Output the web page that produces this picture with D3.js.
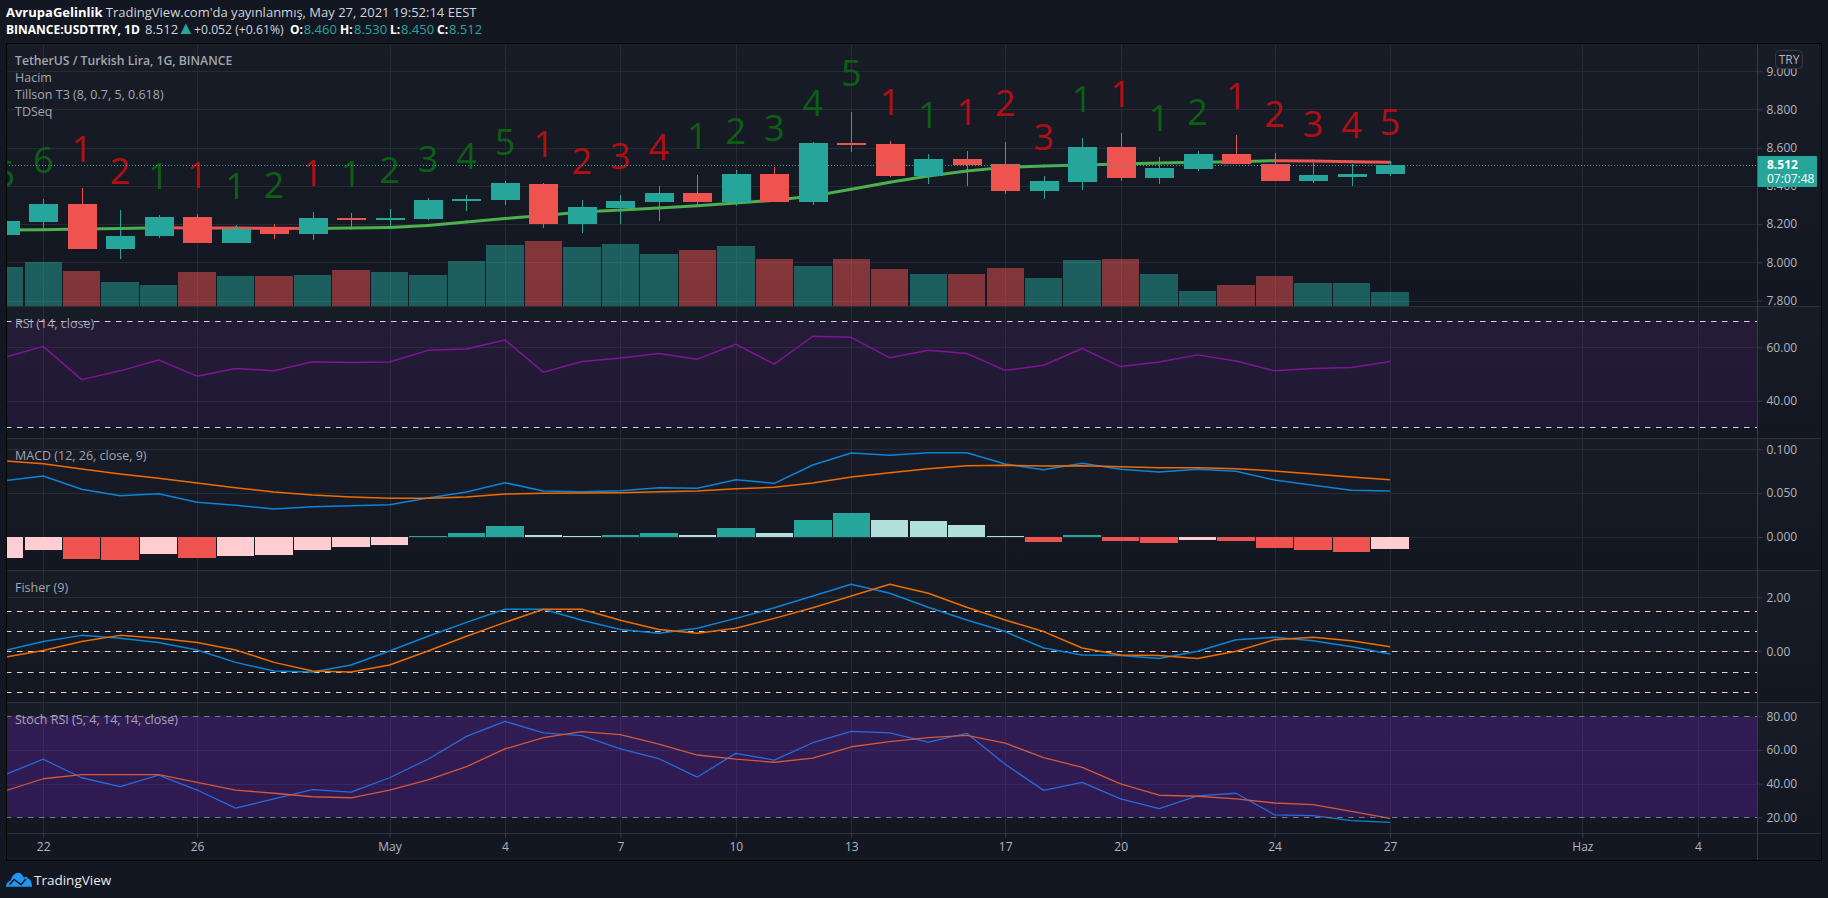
<!DOCTYPE html>
<html>
<head>
<meta charset="utf-8">
<title>USDTTRY</title>
<script src="https://cdn.jsdelivr.net/npm/d3@7"></script>
<style>
html, body { margin: 0; padding: 0; background: #131722; overflow: hidden; }
svg { display: block; }
text { font-family: "Open Sans", sans-serif; }
.axis text { fill: #b2b5be; font-size: 12px; }
.axis line { stroke: #363a45; }
.legend { fill: #a3a6af; font-size: 12.5px; }
</style>
</head>
<body>
<svg id="chart" width="1828" height="898"></svg>
<script>
const days = ["2021-04-21","2021-04-22","2021-04-23","2021-04-24","2021-04-25","2021-04-26","2021-04-27","2021-04-28","2021-04-29","2021-04-30",
    "2021-05-01","2021-05-02","2021-05-03","2021-05-04","2021-05-05","2021-05-06","2021-05-07","2021-05-08","2021-05-09","2021-05-10",
    "2021-05-11","2021-05-12","2021-05-13","2021-05-14","2021-05-15","2021-05-16","2021-05-17","2021-05-18","2021-05-19","2021-05-20",
    "2021-05-21","2021-05-22","2021-05-23","2021-05-24","2021-05-25","2021-05-26","2021-05-27"];

const opens  = [8.143,8.213,8.305,8.070,8.138,8.237,8.101,8.174,8.148,8.232,8.221,8.227,8.321,8.326,8.410,8.200,8.284,8.316,8.363,8.316,8.462,8.316,8.625,8.619,8.452,8.541,8.515,8.373,8.420,8.604,8.441,8.488,8.567,8.515,8.426,8.447,8.460];
const highs  = [8.258,8.331,8.387,8.274,8.248,8.253,8.195,8.200,8.263,8.258,8.279,8.337,8.352,8.426,8.415,8.326,8.352,8.399,8.457,8.483,8.499,8.630,8.787,8.635,8.567,8.583,8.630,8.452,8.651,8.677,8.551,8.583,8.666,8.572,8.520,8.515,8.530];
const lows   = [8.130,8.178,8.070,8.019,8.127,8.101,8.101,8.122,8.117,8.185,8.185,8.221,8.269,8.300,8.180,8.153,8.200,8.216,8.305,8.295,8.316,8.300,8.578,8.447,8.410,8.399,8.358,8.331,8.378,8.426,8.410,8.478,8.515,8.426,8.415,8.399,8.450];
const closes = [8.216,8.305,8.070,8.138,8.237,8.101,8.174,8.148,8.232,8.221,8.232,8.326,8.331,8.415,8.200,8.290,8.321,8.363,8.316,8.462,8.316,8.625,8.614,8.452,8.541,8.510,8.373,8.426,8.604,8.441,8.494,8.567,8.515,8.426,8.457,8.462,8.512];
const volumes = [39,44,35,24,21,34,30,30,31,36,34,31,45,61,65,59,62,52,56,60,47,40,47,37,32,32,38,28,46,47,32,15,21,30,23,23,14];
const t3 = [8.169,8.171,8.174,8.177,8.181,8.180,8.179,8.178,8.177,8.179,8.182,8.193,8.211,8.229,8.245,8.263,8.274,8.284,8.296,8.310,8.325,8.347,8.382,8.419,8.452,8.478,8.497,8.504,8.509,8.515,8.520,8.524,8.527,8.532,8.530,8.527,8.524];
const tdCounts = [5,6,1,2,1,1,1,2,1,1,2,3,4,5,1,2,3,4,1,2,3,4,5,1,1,1,2,3,1,1,1,2,1,2,3,4,5];
const tdBuy = [1,1,0,0,1,0,1,1,0,1,1,1,1,1,0,0,0,0,1,1,1,1,1,0,1,0,0,0,1,0,1,1,0,0,0,0,0];

const rsi = [56.3,60.4,47.9,51.2,55.3,49.2,52.1,51.2,54.6,54.3,54.5,58.9,59.4,62.8,50.7,54.7,56.0,57.7,55.6,61.2,53.7,64.2,63.8,56.1,58.9,57.7,51.4,53.3,59.6,52.8,54.5,57.2,54.9,51.2,52.1,52.5,54.7];

const macd = [.0642,.0696,.0544,.0471,.0494,.0396,.0361,.0319,.0345,.0357,.0368,.0445,.0513,.0619,.0525,.0517,.0528,.0562,.0555,.0653,.0612,.0821,.0958,.0932,.0961,.0961,.0832,.0767,.0840,.0772,.0741,.0772,.0749,.0650,.0590,.0532,.0525];
const macdSignal = [.0867,.0836,.0775,.0718,.0669,.0616,.0562,.0513,.0479,.0456,.0441,.0441,.0456,.0490,.0498,.0502,.0505,.0517,.0525,.0551,.0567,.0616,.0684,.0733,.0779,.0813,.0818,.0810,.0813,.0802,.0790,.0790,.0779,.0753,.0718,.0684,.0653];
const macdHist = [-.0239,-.0148,-.0251,-.0262,-.0194,-.0239,-.0217,-.0205,-.0148,-.0114,-.0091,.0006,.0046,.0125,.0023,.0011,.0023,.0046,.0023,.0103,.0046,.0194,.0274,.0194,.0182,.0137,.0011,-.0057,.0023,-.0046,-.0068,-.0034,-.0046,-.0125,-.0148,-.0171,-.0137];

const fisher = [.03,.36,.59,.48,.33,.05,-.41,-.73,-.77,-.51,.01,.56,1.07,1.56,1.56,1.15,.81,.67,.85,1.22,1.61,2.05,2.48,2.15,1.63,1.16,.73,.12,-.14,-.16,-.27,0,.43,.52,.39,.17,-.10];
const fisherTrigger = [-.22,.03,.36,.59,.48,.33,.05,-.41,-.73,-.77,-.51,.01,.56,1.07,1.56,1.56,1.15,.81,.67,.85,1.22,1.61,2.05,2.48,2.15,1.63,1.16,.73,.12,-.14,-.16,-.27,0,.43,.52,.39,.17];
const fisherLevels = [1.5,.75,0,-.75,-1.5];

const stochK = [45.3,54.5,43.5,38.2,45.1,36.2,25.5,30.9,36.4,34.9,43.5,54.5,68.1,77.0,70.1,68.5,60.6,54.8,43.9,58.0,54.0,64.3,71.1,70.1,64.6,69.9,51.5,36.0,40.8,30.9,25.1,32.7,34.3,21.5,21.0,18.0,17.0];
const stochD = [35.6,42.9,45.3,45.3,45.3,40.8,36.2,34.3,32.2,31.6,36.2,42.2,50.1,60.6,67.3,70.9,69.1,63.4,57.0,54.5,52.7,55.1,61.9,64.9,67.3,68.7,64.0,55.4,49.7,39.8,33.1,32.5,30.9,28.5,27.5,23.5,19.4];

const priceTicks = [9, 8.8, 8.6, 8.4, 8.2, 8, 7.8];
const rsiTicks = [60, 40];
const macdTicks = [.1, .05, 0];
const fisherTicks = [2, 0];
const stochTicks = [80, 60, 40, 20];
const timeTicks = ["2021-04-22","2021-04-26","2021-05-01","2021-05-04","2021-05-07","2021-05-10","2021-05-13","2021-05-17","2021-05-20","2021-05-24","2021-05-27","2021-06-01","2021-06-04"];
const timeLabels = ["22","26","May","4","7","10","13","17","20","24","27","Haz","4"];
const lastPrice = 8.512;

const UP = "#26a69a", DOWN = "#ef5350";
const GRID = "#252a35", SEP = "#2c303b";
const plotLeft = 6, plotRight = 1757.5, frameRight = 1822, plotTop = 43, plotBottom = 833, frameBottom = 861;

const panes = {
    main:   { y0: 43,  y1: 306 },
    rsi:    { y0: 306, y1: 438 },
    macd:   { y0: 438, y1: 570 },
    fisher: { y0: 570, y1: 702 },
    stoch:  { y0: 702, y1: 833 }
};

const parse = d3.utcParse("%Y-%m-%d");
const dates = days.map(parse);
const x = d3.scaleUtc().domain([parse("2021-04-22"), parse("2021-05-27")]).range([43.2, 1390]);
const barWidth = 37.4, bodyWidth = 29;

const yPrice  = d3.scaleLinear().domain([7.8, 9]).range([300.5, 71.3]);
const yVolume = d3.scaleLinear().domain([0, 65]).range([306, 241]);
const yRsi    = d3.scaleLinear().domain([30, 70]).range([427.3, 320.8]);
const yMacd   = d3.scaleLinear().domain([0, .1]).range([537, 449.3]);
const yFisher = d3.scaleLinear().domain([-1.5, 1.5]).range([691.8, 610.8]);
const yStoch  = d3.scaleLinear().domain([20, 80]).range([817.3, 716.3]);

const svg = d3.select("#chart");
const defs = svg.append("defs");

const grad = defs.append("linearGradient").attr("id", "paneBg").attr("x1", 0).attr("y1", 0).attr("x2", 0).attr("y2", 1);
grad.append("stop").attr("offset", 0).attr("stop-color", "#181c27");
grad.append("stop").attr("offset", 1).attr("stop-color", "#131722");

svg.append("rect").attr("width", 1828).attr("height", 898).attr("fill", "#131722");

// one clip per pane, marks stop at the price axis and pane edges
Object.entries(panes).forEach(([name, p]) => {
    svg.append("rect").attr("x", plotLeft).attr("y", p.y0).attr("width", frameRight - plotLeft).attr("height", p.y1 - p.y0).attr("fill", "url(#paneBg)");
    defs.append("clipPath").attr("id", "clip-" + name).append("rect")
        .attr("x", plotLeft).attr("y", p.y0).attr("width", plotRight - plotLeft).attr("height", p.y1 - p.y0);
});

function pane(name) {
    return svg.append("g").attr("clip-path", `url(#clip-${name})`);
}

function hgrid(y, ticks) {
    svg.append("g").selectAll("line").data(ticks).join("line")
        .attr("x1", plotLeft).attr("x2", plotRight)
        .attr("y1", d => Math.round(y(d)) + .5).attr("y2", d => Math.round(y(d)) + .5)
        .attr("stroke", GRID);
}

function yAxis(y, ticks, fmt) {
    const g = svg.append("g").attr("class", "axis")
        .attr("transform", `translate(${plotRight},0)`)
        .call(d3.axisRight(y).tickValues(ticks).tickFormat(d3.format(fmt)).tickSize(5).tickPadding(4));
    g.select(".domain").remove();
    return g;
}

function seriesLine(g, y, values, color, width) {
    g.append("path")
        .attr("d", d3.line().x((d, i) => x(dates[i])).y(d => y(d))(values))
        .attr("fill", "none").attr("stroke", color).attr("stroke-width", width).attr("stroke-linejoin", "round");
}

function dashed(g, y, value, color) {
    g.append("line")
        .attr("x1", plotLeft).attr("x2", plotRight)
        .attr("y1", Math.round(y(value)) + .5).attr("y2", Math.round(y(value)) + .5)
        .attr("stroke", color).attr("stroke-dasharray", "5.5 5.5");
}

function band(g, y, hi, lo, color) {
    g.append("rect").attr("x", plotLeft).attr("width", plotRight - plotLeft)
        .attr("y", y(hi)).attr("height", y(lo) - y(hi)).attr("fill", color);
}

hgrid(yPrice, priceTicks);
hgrid(yRsi, rsiTicks);
hgrid(yMacd, macdTicks);
hgrid(yFisher, fisherTicks);
hgrid(yStoch, stochTicks.slice(1, 3));

// vertical grid
svg.append("g").selectAll("line").data(timeTicks).join("line")
    .attr("x1", d => Math.round(x(parse(d))) + .5).attr("x2", d => Math.round(x(parse(d))) + .5)
    .attr("y1", plotTop).attr("y2", plotBottom).attr("stroke", GRID);

// main pane
const gMain = pane("main");
gMain.append("g").selectAll("rect").data(volumes).join("rect")
    .attr("x", (d, i) => x(dates[i]) - barWidth / 2).attr("width", barWidth)
    .attr("y", d => yVolume(d)).attr("height", d => yVolume(0) - yVolume(d))
    .attr("fill", (d, i) => closes[i] >= opens[i] ? UP : DOWN)
    .attr("fill-opacity", .5)
    .attr("shape-rendering", "crispEdges");

// T3 turns red on the falling stretches
gMain.append("g").selectAll("path").data(t3.slice(1)).join("path")
    .attr("d", (d, i) => d3.line()([[x(dates[i]), yPrice(t3[i])], [x(dates[i + 1]), yPrice(d)]]))
    .attr("fill", "none").attr("stroke-width", 3).attr("stroke-linecap", "round")
    .attr("stroke", (d, i) => d >= t3[i] ? "#4caf50" : DOWN);

const candles = gMain.append("g").selectAll("g").data(dates).join("g")
    .attr("fill", (d, i) => closes[i] >= opens[i] ? UP : DOWN)
    .attr("stroke", (d, i) => closes[i] >= opens[i] ? UP : DOWN)
    .attr("shape-rendering", "crispEdges");
candles.append("line")
    .attr("x1", d => Math.round(x(d)) + .5).attr("x2", d => Math.round(x(d)) + .5)
    .attr("y1", (d, i) => yPrice(highs[i])).attr("y2", (d, i) => yPrice(lows[i]));
candles.append("rect").attr("stroke", "none")
    .attr("x", d => Math.round(x(d)) - bodyWidth / 2 + .5).attr("width", bodyWidth)
    .attr("y", (d, i) => yPrice(Math.max(opens[i], closes[i])))
    .attr("height", (d, i) => Math.max(1, Math.abs(yPrice(opens[i]) - yPrice(closes[i]))));

// TD sequential digits sit a fixed distance above each high
gMain.append("g").selectAll("text").data(tdCounts).join("text")
    .attr("x", (d, i) => x(dates[i])).attr("y", (d, i) => yPrice(highs[i]) - 26)
    .attr("text-anchor", "middle")
    .attr("font-size", 36)
    .attr("fill", (d, i) => tdBuy[i] ? "#0d5f14" : "#b20f14")
    .text(d => d);

gMain.append("line")
    .attr("x1", plotLeft).attr("x2", plotRight)
    .attr("y1", Math.round(yPrice(lastPrice)) + .5).attr("y2", Math.round(yPrice(lastPrice)) + .5)
    .attr("stroke", UP).attr("stroke-dasharray", "1 2");

// RSI
const gRsi = pane("rsi");
seriesLine(gRsi, yRsi, rsi, "#7e1490", 1.5);
band(gRsi, yRsi, 70, 30, "rgba(150,30,200,.11)");
dashed(gRsi, yRsi, 70, "#d1d4dc");
dashed(gRsi, yRsi, 30, "#d1d4dc");

// MACD
const gMacd = pane("macd");
gMacd.append("g").selectAll("rect").data(macdHist).join("rect")
    .attr("x", (d, i) => x(dates[i]) - barWidth / 2).attr("width", barWidth)
    .attr("y", d => Math.min(yMacd(d), yMacd(0)))
    .attr("height", d => Math.max(1, Math.abs(yMacd(d) - yMacd(0))))
    .attr("shape-rendering", "crispEdges")
    .attr("fill", (d, i) => {
        const rising = i > 0 && d > macdHist[i - 1];
        if (d >= 0) return rising ? UP : "#b2dfdb";
        return rising || i === 0 ? "#ffcdd2" : DOWN;
    });
seriesLine(gMacd, yMacd, macd, "#0a84d8", 1.5);
seriesLine(gMacd, yMacd, macdSignal, "#ef6c00", 1.5);

// Fisher
const gFisher = pane("fisher");
fisherLevels.forEach(v => dashed(gFisher, yFisher, v, Math.abs(v) === .75 ? "#d6d8de" : "#ffccbc"));
seriesLine(gFisher, yFisher, fisher, "#0a84d8", 1.5);
seriesLine(gFisher, yFisher, fisherTrigger, "#ef6c00", 1.5);

// Stoch RSI, the band lies over the lines
const gStoch = pane("stoch");
seriesLine(gStoch, yStoch, stochK, "#0a84d8", 1.3);
seriesLine(gStoch, yStoch, stochD, "#ef6c00", 1.3);
band(gStoch, yStoch, 80, 20, "rgba(126,30,225,.25)");
dashed(gStoch, yStoch, 80, "#787b86");
dashed(gStoch, yStoch, 20, "#787b86");

// separators and frame
svg.append("g").selectAll("line").data([panes.main.y1, panes.rsi.y1, panes.macd.y1, panes.fisher.y1, panes.stoch.y1]).join("line")
    .attr("x1", plotLeft).attr("x2", frameRight)
    .attr("y1", d => d + .5).attr("y2", d => d + .5)
    .attr("stroke", SEP);
svg.append("line").attr("x1", plotRight).attr("x2", plotRight).attr("y1", plotTop).attr("y2", frameBottom).attr("stroke", "#363a45");

// axes
yAxis(yPrice, priceTicks, ".3f");
yAxis(yRsi, rsiTicks, ".2f");
yAxis(yMacd, macdTicks, ".3f");
yAxis(yFisher, fisherTicks, ".2f");
yAxis(yStoch, stochTicks, ".2f");

const timeAxis = svg.append("g").attr("class", "axis")
    .attr("transform", `translate(0,${plotBottom})`)
    .call(d3.axisBottom(x).tickValues(timeTicks.map(parse)).tickFormat((d, i) => timeLabels[i]).tickSize(5).tickPadding(4));
timeAxis.select(".domain").remove();

svg.append("rect").attr("x", plotLeft + .5).attr("y", plotTop + .5)
    .attr("width", frameRight - plotLeft - 1).attr("height", frameBottom - plotTop - 1)
    .attr("fill", "none").attr("stroke", "#000");

// legends
const legends = [
    ["TetherUS / Turkish Lira, 1G, BINANCE", 60.7, 600],
    ["Hacim", 77.7, 400],
    ["Tillson T3 (8, 0.7, 5, 0.618)", 95, 400],
    ["TDSeq", 111.7, 400],
    ["RSI (14, close)", 323.7, 400],
    ["MACD (12, 26, close, 9)", 455.7, 400],
    ["Fisher (9)", 587.7, 400],
    ["Stoch RSI (5, 4, 14, 14, close)", 719.7, 400]
];
svg.append("g").selectAll("text").data(legends).join("text")
    .attr("class", "legend")
    .attr("x", 15).attr("y", d => d[1]).attr("dy", ".35em")
    .attr("font-weight", d => d[2])
    .style("font-size", d => d[2] === 600 ? "12.2px" : null)
    .text(d => d[0]);

// header
svg.append("text").attr("x", 6).attr("y", 12.7).attr("dy", ".35em").attr("font-size", 13).attr("fill", "#d1d4dc")
    .call(t => t.append("tspan").attr("font-weight", 700).attr("fill", "#fff").text("AvrupaGelinlik"))
    .call(t => t.append("tspan").text(" TradingView.com'da yayınlanmış, May 27, 2021 19:52:14 EEST"));

const head = svg.append("text").attr("y", 29.7).attr("dy", ".35em").attr("font-size", 13).attr("fill", "#d1d4dc");
head.append("tspan").attr("x", 6).attr("font-weight", 700).attr("font-size", 12).attr("fill", "#fff").text("BINANCE:USDTTRY, 1D");
head.append("tspan").attr("x", 145).text(d3.format(".3f")(lastPrice));
head.append("tspan").attr("x", 177).attr("font-size", 18).attr("fill", UP).text("▲");
head.append("tspan").attr("x", 194).attr("font-size", 12.2).text("+0.052 (+0.61%)");
[["O:", opens[36], 290, 303.7], ["H:", highs[36], 340, 354], ["L:", lows[36], 390, 401], ["C:", closes[36], 437, 449]].forEach(([k, v, xk, xv]) => {
    head.append("tspan").attr("x", xk).attr("font-weight", 700).attr("font-size", 12).attr("fill", "#fff").text(k);
    head.append("tspan").attr("x", xv).attr("fill", UP).text(v.toFixed(3));
});

// last price tag
svg.append("rect").attr("x", plotRight).attr("y", 156).attr("width", 59.5).attr("height", 31).attr("rx", 1).attr("fill", UP);
svg.append("text").attr("x", 1767).attr("y", yPrice(lastPrice)).attr("dy", ".35em")
    .attr("font-size", 12).attr("font-weight", 700).attr("fill", "#fff").text(d3.format(".3f")(lastPrice));
svg.append("text").attr("x", 1767).attr("y", 178.3).attr("dy", ".35em")
    .attr("font-size", 12).attr("fill", "#fff").text("07:07:48");

// currency badge
svg.append("rect").attr("x", 1775.5).attr("y", 50.5).attr("width", 27).attr("height", 18).attr("rx", 4)
    .attr("fill", "#181c27").attr("stroke", "#363a45");
svg.append("text").attr("x", 1789).attr("y", 59.5).attr("dy", ".35em").attr("text-anchor", "middle")
    .attr("font-size", 12).attr("fill", "#b2b5be").text("TRY");

// logo
const logo = svg.append("g").attr("transform", "translate(6,872.7)");
logo.append("path").attr("fill", "#2196f3")
    .attr("d", "M0 14 C0 11 2 8.5 4.5 8 C6 3 9 0 12 0 C15 0 16.5 2 18 5 C19.5 3.5 21 4 22 6 C24.5 6.5 26 9.5 26 14 Z");
logo.append("path").attr("fill", "none").attr("stroke", "#131722").attr("stroke-width", 1.5)
    .attr("d", "M3.5 12 L8 6.8 L15 12 L20 6");
svg.append("text").attr("x", 34).attr("y", 880).attr("dy", ".35em").attr("font-size", 13.5).attr("fill", "#e8e9ed").text("TradingView");
</script>
</body>
</html>
